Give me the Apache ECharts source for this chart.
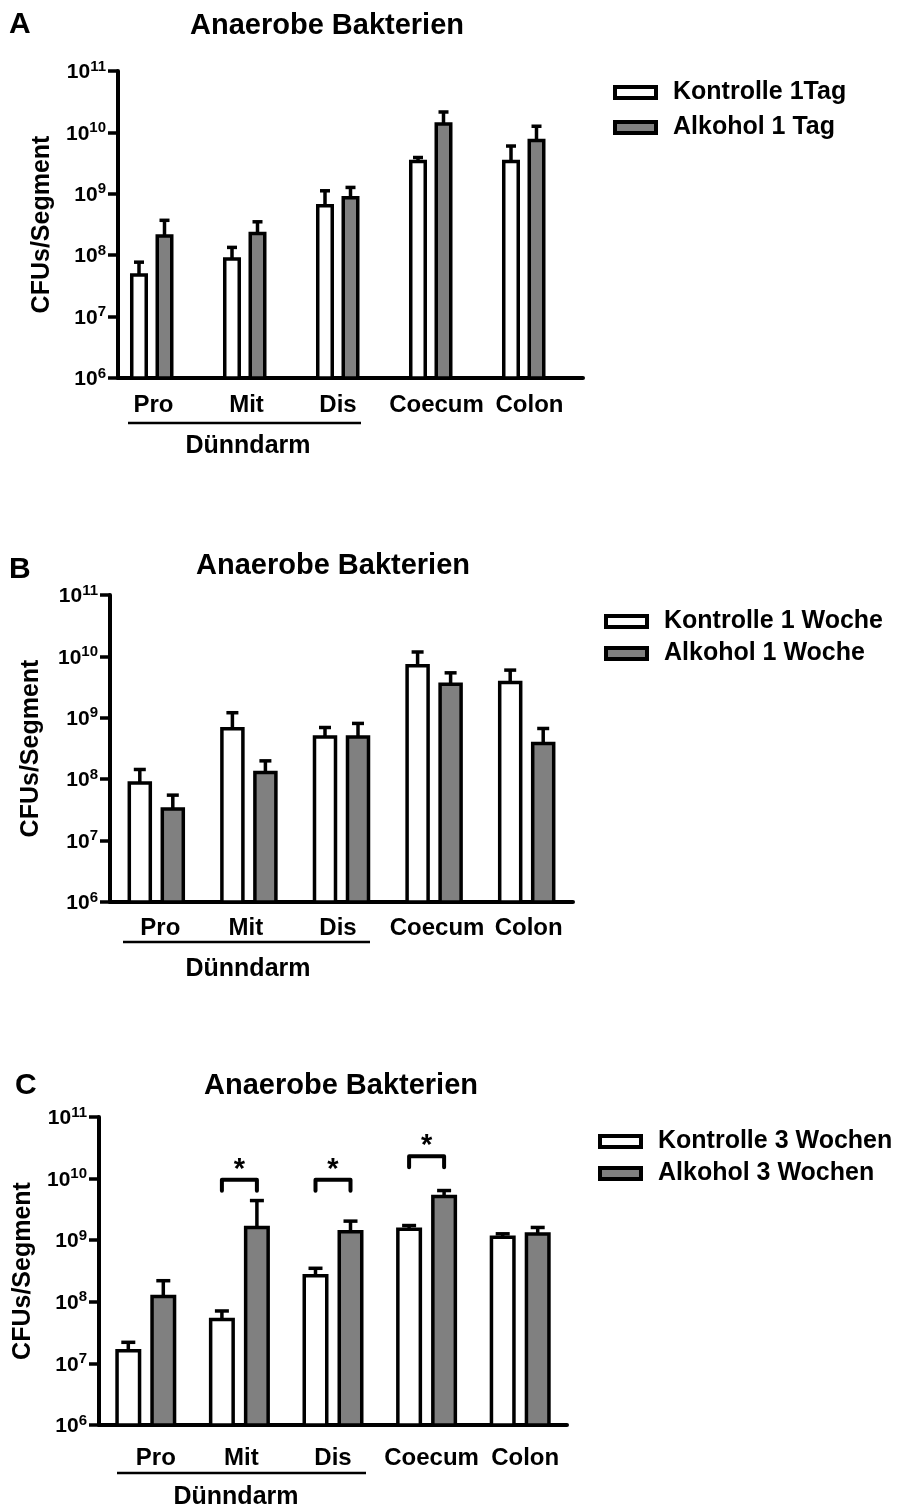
<!DOCTYPE html>
<html>
<head>
<meta charset="utf-8">
<script src="https://cdn.jsdelivr.net/npm/echarts@6/dist/echarts.min.js"></script>
<style>html,body{margin:0;padding:0;background:#fff}#c{width:900px;height:1508px}</style>
</head>
<body>
<div id="c"></div>
<script>
// ---------- DATA ----------
const categories = ['Pro', 'Mit', 'Dis', 'Coecum', 'Colon'];
const yTickExponents = [6, 7, 8, 9, 10, 11];
const titleText = 'Anaerobe Bakterien';
const yName = 'CFUs/Segment';
const groupLabel = 'Dünndarm';
const panelLetters = ['A', 'B', 'C'];

const namesA = ['Kontrolle 1Tag', 'Alkohol 1 Tag'];
const ctrlA = [5.1e7, 9.3e7, 6.8e8, 3.6e9, 3.6e9];
const ctrlErrA = [7.7e7, 1.34e8, 1.12e9, 3.9e9, 6.0e9];
const alkA = [2.2e8, 2.4e8, 9.2e8, 1.47e10, 7.9e9];
const alkErrA = [3.7e8, 3.5e8, 1.27e9, 2.15e10, 1.26e10];

const namesB = ['Kontrolle 1 Woche', 'Alkohol 1 Woche'];
const ctrlB = [9.3e7, 7.1e8, 5.2e8, 7.5e9, 4.0e9];
const ctrlErrB = [1.44e8, 1.21e9, 6.95e8, 1.18e10, 5.98e9];
const alkB = [3.5e7, 1.37e8, 5.2e8, 3.77e9, 4.06e8];
const alkErrB = [5.5e7, 1.99e8, 8.1e8, 5.4e9, 6.7e8];

const namesC = ['Kontrolle 3 Wochen', 'Alkohol 3 Wochen'];
const ctrlC = [1.72e7, 5.5e7, 2.84e8, 1.61e9, 1.19e9];
const ctrlErrC = [2.2e7, 7.1e7, 3.5e8, 1.73e9, 1.27e9];
const alkC = [1.3e8, 1.71e9, 1.46e9, 5.47e9, 1.34e9];
const alkErrC = [2.2e8, 4.4e9, 2.04e9, 6.4e9, 1.61e9];

// significance brackets in panel C: [category index, bracket top value]
const bracketsC = [[1, 9.6e9], [2, 9.6e9], [3, 2.3e10]];
const bracketMark = '*';

// ---------- LAYOUT ----------
const FONT = '"Liberation Sans", Arial, Helvetica, sans-serif';
const panels = [
  { names: namesA, ctrl: ctrlA, ctrlErr: ctrlErrA, alk: alkA, alkErr: alkErrA,
    grid: { left: 118, top: 71, width: 465, height: 307 },
    barWidth: 18, barGap: 7.5, nSlots: 3, capHalf: 5,
    labelShift: [-11, -11, -12.5, -7, -7], labelMargin: 15,
    title: [327, 26], letter: [9, 25], yNameGap: 62,
    underline: [128, 361, 423], group: [248, 446],
    legend: { left: 613, top: 80, gap: 10 } },
  { names: namesB, ctrl: ctrlB, ctrlErr: ctrlErrB, alk: alkB, alkErr: alkErrB,
    grid: { left: 110, top: 595, width: 463, height: 307 },
    barWidth: 24.5, barGap: 8.5, nSlots: 2, capHalf: 6,
    labelShift: [4, -3, -3.5, 3, 2], labelMargin: 14,
    title: [333, 566], letter: [9, 570], yNameGap: 66,
    underline: [123, 370, 942], group: [248, 969],
    legend: { left: 604, top: 609, gap: 7 } },
  { names: namesC, ctrl: ctrlC, ctrlErr: ctrlErrC, alk: alkC, alkErr: alkErrC,
    grid: { left: 99, top: 1117, width: 468, height: 308 },
    barWidth: 26, barGap: 9, nSlots: 2, capHalf: 7,
    labelShift: [10, 2, 0, 5, 5], labelMargin: 21,
    title: [341, 1086], letter: [15, 1086], yNameGap: 60,
    underline: [117, 366, 1473], group: [236, 1497],
    legend: { left: 598, top: 1129, gap: 7 }, brackets: bracketsC }
];

const grids = [], xAxes = [], yAxes = [], series = [], legends = [], graphics = [];

panels.forEach((p, k) => {
  grids.push(Object.assign({ containLabel: false }, p.grid));
  xAxes.push({
    type: 'category', gridIndex: k,
    data: categories.map((c, i) => {
      const s = p.labelShift[i];
      return { value: c, textStyle: { padding: s < 0 ? [0, -2 * s, 0, 0] : [0, 0, 0, 2 * s] } };
    }),
    axisLine: { lineStyle: { color: '#000', width: 4 } },
    axisTick: { show: false },
    axisLabel: { interval: 0, margin: p.labelMargin, color: '#000', fontFamily: FONT, fontWeight: 'bold', fontSize: 24 },
    splitLine: { show: false }
  });
  yAxes.push({
    type: 'log', gridIndex: k, logBase: 10, min: 1e6, max: 1e11,
    name: yName, nameLocation: 'middle', nameRotate: 90, nameGap: p.yNameGap,
    nameTextStyle: { color: '#000', fontFamily: FONT, fontWeight: 'bold', fontSize: 25 },
    axisLine: { show: true, lineStyle: { color: '#000', width: 4 } },
    axisTick: { show: true, length: 10, lineStyle: { color: '#000', width: 3.5 } },
    minorTick: { show: false },
    splitLine: { show: false },
    axisLabel: {
      margin: 12, color: '#000',
      formatter: v => {
        const e = Math.round(Math.log10(v));
        return yTickExponents.includes(e) ? '{b|10}{s|' + e + '}' : '';
      },
      rich: {
        b: { fontFamily: FONT, fontWeight: 'bold', fontSize: 21, lineHeight: 24, color: '#000', verticalAlign: 'bottom' },
        s: { fontFamily: FONT, fontWeight: 'bold', fontSize: 15, lineHeight: 15, color: '#000', verticalAlign: 'top' }
      }
    }
  });

  const w = p.barWidth, g = p.barGap, n = p.nSlots;
  const total = n * w + (n - 1) * g;
  const slotCenter = i => -total / 2 + w / 2 + i * (w + g);
  const pct = (g / w * 100).toFixed(1) + '%';

  const mkBar = (name, vals, color) => ({
    type: 'bar', name, xAxisIndex: k, yAxisIndex: k, data: vals,
    barWidth: w, barGap: pct,
    itemStyle: { color, borderColor: '#000', borderWidth: 3.5 },
    emphasis: { disabled: true }, z: 2
  });
  series.push(mkBar(p.names[0], p.ctrl, '#ffffff'));
  series.push(mkBar(p.names[1], p.alk, '#808080'));
  if (n === 3) series.push(mkBar('_pad' + k, categories.map(() => null), 'rgba(0,0,0,0)'));

  const mkErr = (vals, errs, off) => ({
    type: 'custom', xAxisIndex: k, yAxisIndex: k, z: 3, silent: true,
    data: vals.map((v, i) => [i, v, errs[i]]),
    renderItem: (params, api) => {
      const p0 = api.coord([api.value(0), api.value(1)]);
      const p1 = api.coord([api.value(0), api.value(2)]);
      const x = p0[0] + off;
      const st = { stroke: '#000', lineWidth: 3.5 };
      return { type: 'group', children: [
        { type: 'line', shape: { x1: x, y1: p0[1] + 2, x2: x, y2: p1[1] }, style: st },
        { type: 'line', shape: { x1: x - p.capHalf, y1: p1[1], x2: x + p.capHalf, y2: p1[1] }, style: st }
      ] };
    }
  });
  series.push(mkErr(p.ctrl, p.ctrlErr, slotCenter(0)));
  series.push(mkErr(p.alk, p.alkErr, slotCenter(1)));

  if (p.brackets) {
    const xa = slotCenter(0), xb = slotCenter(1);
    series.push({
      type: 'custom', xAxisIndex: k, yAxisIndex: k, z: 4, silent: true,
      data: p.brackets,
      renderItem: (params, api) => {
        const c = api.coord([api.value(0), api.value(1)]);
        const y = c[1];
        return { type: 'group', children: [
          { type: 'polyline', shape: { points: [[c[0] + xa, y + 11], [c[0] + xa, y], [c[0] + xb, y], [c[0] + xb, y + 11]] },
            style: { stroke: '#000', lineWidth: 4, fill: null, lineJoin: 'round', lineCap: 'round' } },
          { type: 'text', style: { text: bracketMark, x: c[0] + (xa + xb) / 2, y: y - 10, align: 'center', verticalAlign: 'middle',
            fontFamily: FONT, fontWeight: 'bold', fontSize: 29, fill: '#000' } }
        ] };
      }
    });
  }

  legends.push({
    data: p.names, orient: 'vertical', left: p.legend.left, top: p.legend.top, padding: 0,
    itemGap: p.legend.gap, itemWidth: 41, itemHeight: 11, icon: 'rect',
    itemStyle: { borderColor: '#000', borderWidth: 4 },
    selectedMode: false,
    textStyle: { color: '#000', fontFamily: FONT, fontWeight: 'bold', fontSize: 25, padding: [0, 0, 0, 12] }
  });

  graphics.push({ type: 'text',
    style: { text: titleText, x: p.title[0], y: p.title[1], align: 'center', verticalAlign: 'middle',
      fontFamily: FONT, fontWeight: 'bold', fontSize: 29, fill: '#000' } });
  graphics.push({ type: 'text',
    style: { text: panelLetters[k], x: p.letter[0], y: p.letter[1], align: 'left', verticalAlign: 'middle',
      fontFamily: FONT, fontWeight: 'bold', fontSize: 30, fill: '#000' } });
  graphics.push({ type: 'line', shape: { x1: p.underline[0], y1: p.underline[2], x2: p.underline[1], y2: p.underline[2] },
    style: { stroke: '#000', lineWidth: 2.5 } });
  graphics.push({ type: 'text',
    style: { text: groupLabel, x: p.group[0], y: p.group[1], align: 'center', verticalAlign: 'middle',
      fontFamily: FONT, fontWeight: 'bold', fontSize: 25, fill: '#000' } });
});

const chart = echarts.init(document.getElementById('c'), null, { renderer: 'canvas' });
chart.setOption({
  animation: false,
  backgroundColor: '#ffffff',
  grid: grids, xAxis: xAxes, yAxis: yAxes, series, legend: legends, graphic: graphics
});
</script>
</body>
</html>
